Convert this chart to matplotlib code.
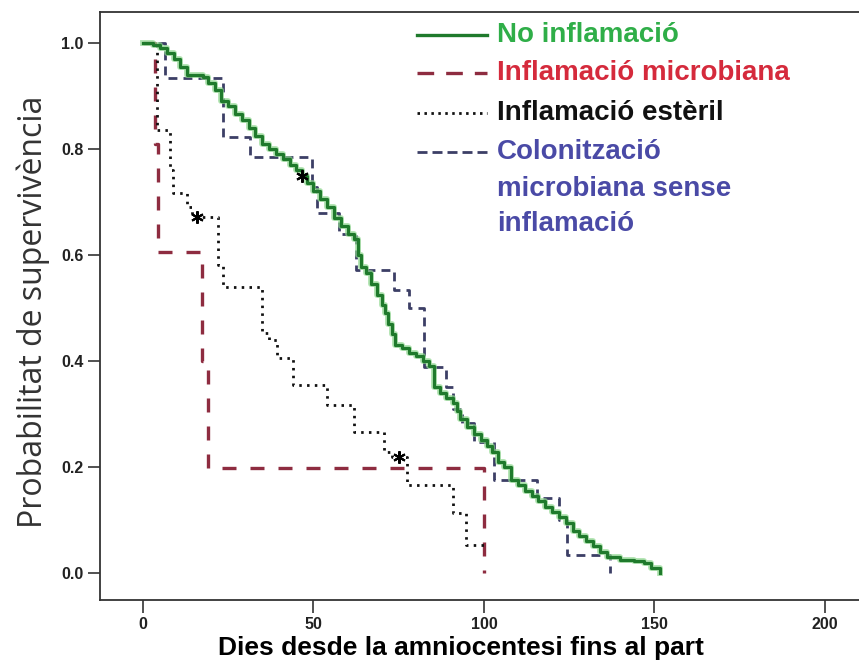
import matplotlib
matplotlib.use("Agg")
import matplotlib.pyplot as plt

# --- data (days, survival probability) ---
no_inf_t = [0, 3, 5, 7, 9, 11, 13, 17.5, 19, 21, 23, 25, 27, 29, 31, 33, 35, 37, 39, 41,
            43, 45, 46.5, 48, 50, 52, 54, 56, 58, 60, 62, 63, 64, 65.5, 67, 68.5, 70, 71,
            72, 73, 74, 76, 78, 80, 82, 84, 85.5, 87, 89, 91, 92, 93, 95, 97, 99, 101,
            102.5, 104, 106, 108, 110, 112, 114, 116, 118, 120, 122, 124, 126, 128, 130,
            132, 134, 136, 140, 144, 147, 149, 151.5]
no_inf_s = [1.0, 0.995, 0.99, 0.98, 0.97, 0.955, 0.94, 0.935, 0.925, 0.91, 0.89, 0.88,
            0.865, 0.855, 0.84, 0.825, 0.81, 0.80, 0.79, 0.78, 0.77, 0.76, 0.748, 0.735,
            0.72, 0.705, 0.69, 0.67, 0.655, 0.64, 0.63, 0.60, 0.577, 0.565, 0.545, 0.525,
            0.505, 0.49, 0.47, 0.45, 0.43, 0.425, 0.415, 0.41, 0.40, 0.39, 0.35, 0.34,
            0.33, 0.32, 0.305, 0.29, 0.275, 0.262, 0.25, 0.24, 0.228, 0.21, 0.20, 0.175,
            0.165, 0.155, 0.145, 0.135, 0.125, 0.115, 0.105, 0.095, 0.08, 0.07, 0.06,
            0.05, 0.04, 0.03, 0.025, 0.022, 0.019, 0.01, 0.0]

micro_t = [0, 3.5, 4.5, 17.3, 19, 100]
micro_s = [1.0, 0.81, 0.606, 0.40, 0.198, 0.0]

steril_t = [0, 4.1, 8, 8.8, 13, 14.5, 22, 23.4, 34.8, 37, 39.3, 43.9, 54, 62, 70.8, 73,
            77.5, 91, 94.7, 100]
steril_s = [1.0, 0.836, 0.76, 0.717, 0.69, 0.672, 0.58, 0.54, 0.453, 0.44, 0.406, 0.355,
            0.317, 0.266, 0.228, 0.219, 0.166, 0.113, 0.053, 0.053]

colon_t = [0, 6.4, 23.4, 31.3, 49.7, 51, 57.6, 62.6, 73.7, 78, 82.5, 89, 91, 93.5, 97,
           103, 115.5, 122, 124.3, 137]
colon_s = [1.0, 0.933, 0.823, 0.785, 0.728, 0.679, 0.64, 0.572, 0.534, 0.50, 0.389,
           0.351, 0.31, 0.283, 0.247, 0.175, 0.141, 0.10, 0.034, 0.0]

# censored cases (asterisks)
cens_t = [46.5, 15.8, 75]
cens_s = [0.748, 0.672, 0.219]

leg_lines = ["No inflamació", "Inflamació microbiana", "Inflamació estèril",
             "Colonització", "microbiana sense", "inflamació"]

fig = plt.figure(figsize=(8.59, 6.64), dpi=100)
ax = fig.add_axes([0.1164, 0.0964, 0.8836, 0.8855])

GREEN = "#1f7a2c"
RED = "#8e2c40"
BLACK = "#111111"
BLUE = "#3c3f66"

# light halo under the green curve, like the jpeg original
ax.plot(no_inf_t, no_inf_s, drawstyle="steps-post", color="#8fd88f", lw=4.2,
        alpha=0.7, zorder=3)
ax.plot(no_inf_t, no_inf_s, drawstyle="steps-post", color=GREEN, lw=2.3, zorder=3)
ax.plot(micro_t, micro_s, drawstyle="steps-post", color=RED, lw=2.4,
        dashes=(4.2, 4.2), zorder=2)
ax.plot(steril_t, steril_s, drawstyle="steps-post", color=BLACK, lw=2.0,
        dashes=(0.9, 1.9), zorder=2)
ax.plot(colon_t, colon_s, drawstyle="steps-post", color=BLUE, lw=2.0,
        dashes=(3.2, 2.2), zorder=2)
ax.plot(cens_t, cens_s, ls="none", marker=(6, 2, 0), ms=9, mew=1.5,
        color="black", zorder=4)

ax.set_xlim(-12.6, 210)
ax.set_ylim(-0.051, 1.058)
ax.set_xticks([0, 50, 100, 150, 200])
ax.set_yticks([0.0, 0.2, 0.4, 0.6, 0.8, 1.0])
ax.set_yticklabels(["0.0", "0.2", "0.4", "0.6", "0.8", "1.0"])
ax.spines["right"].set_visible(False)
for s in ["left", "bottom", "top"]:
    ax.spines[s].set_linewidth(1.3)
    ax.spines[s].set_color("#333333")
ax.tick_params(direction="out", length=9, width=1.2, color="#333333", pad=3)
for lab in ax.get_xticklabels() + ax.get_yticklabels():
    lab.set_fontfamily("Liberation Sans")
    lab.set_fontweight("bold")
    lab.set_fontsize(11.5)
    lab.set_color("#222222")

ax.set_xlabel("Dies desde la amniocentesi fins al part", fontfamily="Liberation Sans",
              fontweight="bold", fontsize=19)
ax.xaxis.set_label_coords(0.4756, -0.062)
ax.set_ylabel("Probabilitat de supervivència", fontfamily="Open Sans",
              fontsize=23, color="#333333")
ax.yaxis.set_label_coords(-0.066, 0.49)

# legend drawn by hand at top right (axes fractions)
x0, x1, xt = 0.4177, 0.51, 0.523
samp_y = [0.961, 0.896, 0.828, 0.762]
ax.plot([x0, x1], [samp_y[0]] * 2, transform=ax.transAxes, color=GREEN, lw=2.4)
ax.plot([x0, x1], [samp_y[1]] * 2, transform=ax.transAxes, color=RED, lw=2.4,
        dashes=(5.0, 3.6))
ax.plot([x0, x1], [samp_y[2]] * 2, transform=ax.transAxes, color=BLACK, lw=2.0,
        dashes=(0.9, 1.6))
ax.plot([x0, x1], [samp_y[3]] * 2, transform=ax.transAxes, color=BLUE, lw=2.0,
        dashes=(3.6, 1.8))
text_y = [0.961, 0.896, 0.828, 0.762, 0.699, 0.639]
text_c = ["#2fae48", "#d52a3c", "#111111", "#4a4aa6", "#4a4aa6", "#4a4aa6"]
for lab, col, yy in zip(leg_lines, text_c, text_y):
    ax.text(xt, yy, lab, transform=ax.transAxes, color=col, fontsize=20,
            fontfamily="Liberation Sans", fontweight="bold", va="center", ha="left")

fig.savefig("out.png", dpi=100)
